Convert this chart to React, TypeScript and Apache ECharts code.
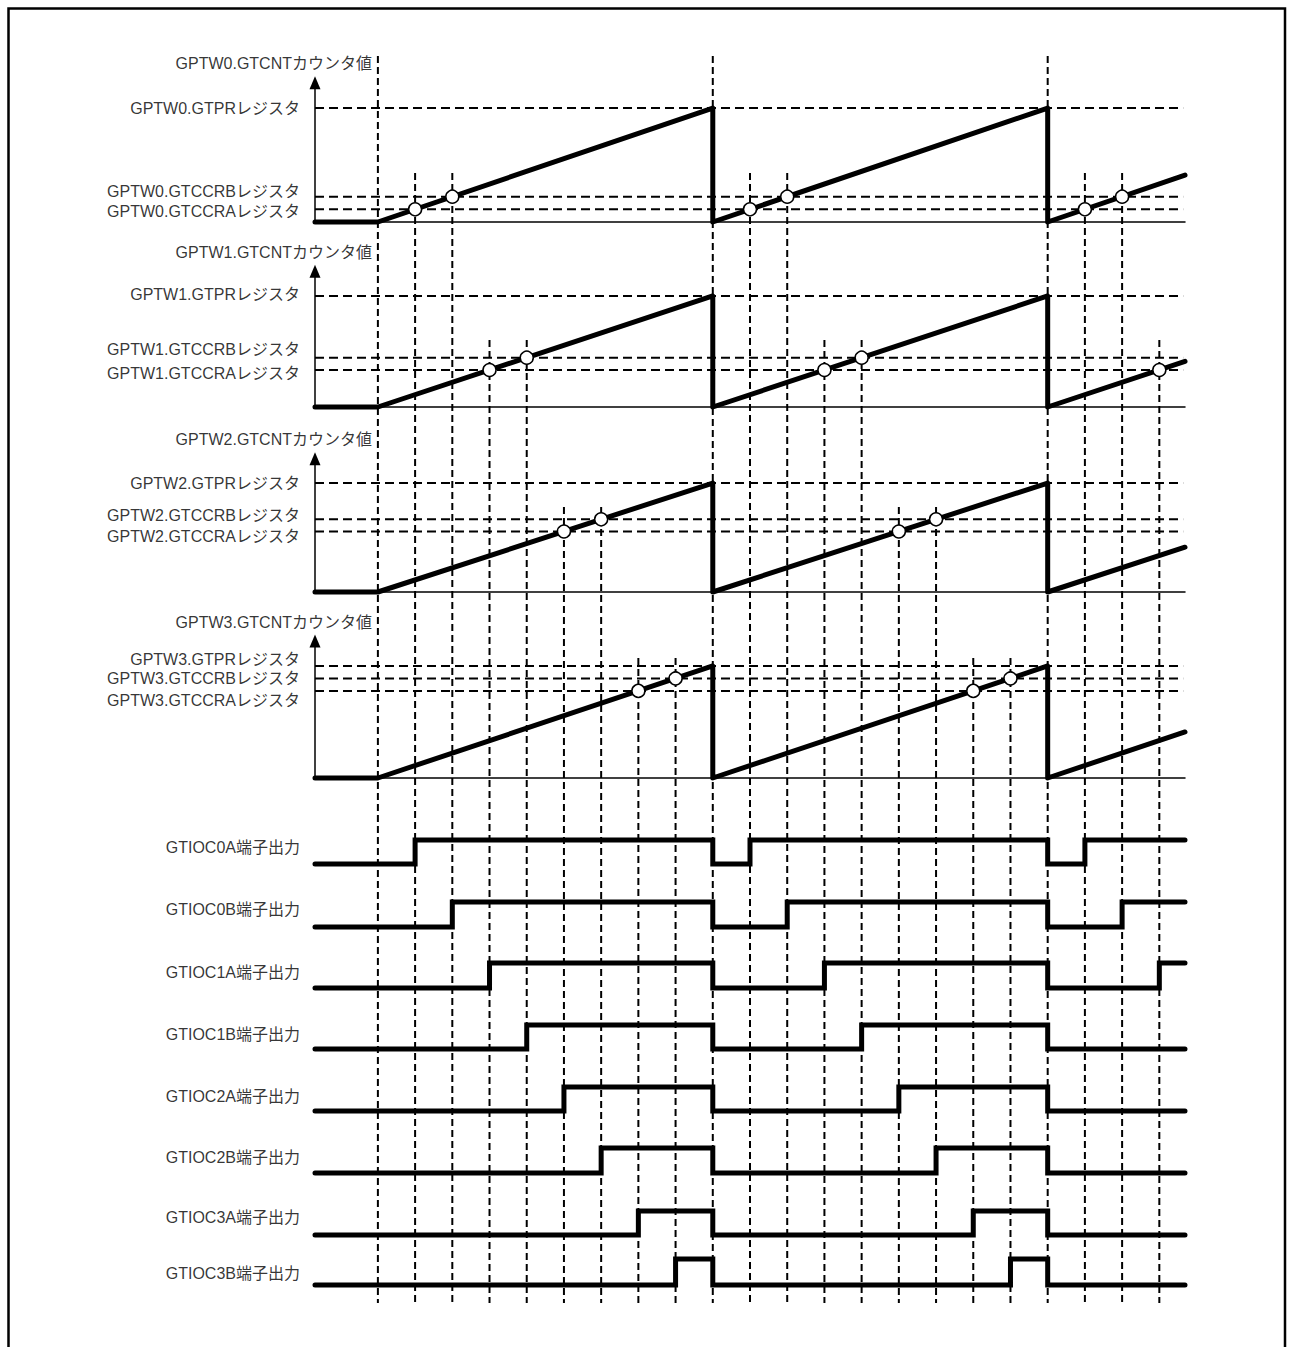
import React, { useEffect, useRef } from "react";
import * as echarts from "echarts";

// ---- time axis (counter clock periods) ----
const T_MIN = -1.69;
const T_MAX = 21.69;
const COUNTER_AXIS_MAX = 11;

// ---- counter data ----
const timerNames = ["GPTW0", "GPTW1", "GPTW2", "GPTW3"];
const gtprValue = 9;
const gtccraValues = [1, 3, 5, 7];
const gtccrbValues = [2, 4, 6, 8];
const counterTimes = [T_MIN, 0, 9, 9, 18, 18, T_MAX];
const counterValues = [0, 0, 9, 0, 9, 0, 3.7];
const matchATimes = [[1, 10, 19], [3, 12, 21], [5, 14], [7, 16]];
const matchBTimes = [[2, 11, 20], [4, 13], [6, 15], [8, 17]];

// ---- output pin data: [time, level] change points (step "end") ----
const outputNames = [
  "GTIOC0A端子出力",
  "GTIOC0B端子出力",
  "GTIOC1A端子出力",
  "GTIOC1B端子出力",
  "GTIOC2A端子出力",
  "GTIOC2B端子出力",
  "GTIOC3A端子出力",
  "GTIOC3B端子出力",
];
const out0A = [[T_MIN, 0], [1, 1], [9, 0], [10, 1], [18, 0], [19, 1], [T_MAX, 1]];
const out0B = [[T_MIN, 0], [2, 1], [9, 0], [11, 1], [18, 0], [20, 1], [T_MAX, 1]];
const out1A = [[T_MIN, 0], [3, 1], [9, 0], [12, 1], [18, 0], [21, 1], [T_MAX, 1]];
const out1B = [[T_MIN, 0], [4, 1], [9, 0], [13, 1], [18, 0], [T_MAX, 0]];
const out2A = [[T_MIN, 0], [5, 1], [9, 0], [14, 1], [18, 0], [T_MAX, 0]];
const out2B = [[T_MIN, 0], [6, 1], [9, 0], [15, 1], [18, 0], [T_MAX, 0]];
const out3A = [[T_MIN, 0], [7, 1], [9, 0], [16, 1], [18, 0], [T_MAX, 0]];
const out3B = [[T_MIN, 0], [8, 1], [9, 0], [17, 1], [18, 0], [T_MAX, 0]];
const outputLevels = [out0A, out0B, out1A, out1B, out2A, out2B, out3A, out3B];

// ---- vertical guide times, grouped by where they start ----
const guideTimesOverflow = [0, 9, 18];
const guideTimesW0 = [1, 2, 10, 11, 19, 20];
const guideTimesW1 = [3, 4, 12, 13, 21];
const guideTimesW2 = [5, 6, 14, 15];
const guideTimesW3 = [7, 8, 16, 17];
const guideGroups = [guideTimesOverflow, guideTimesW0, guideTimesW1, guideTimesW2, guideTimesW3];

// ---- layout (pixels) ----
const PLOT_LEFT = 315;
const PLOT_RIGHT_EDGE = 1185;
const counterLayout = [
  { top: 82.7, base: 222 },
  { top: 271.3, base: 407 },
  { top: 458.8, base: 592 },
  { top: 641.1, base: 778 },
];
// label vertical offsets: [GTPR, GTCCRB, GTCCRA]
const registerLabelDy = [
  [0, -5, 2],
  [-1, -8, 4],
  [0, -4, 5],
  [-6, 0, 10],
];
const outputLayout = [
  { high: 840, low: 864, dy: -16 },
  { high: 902, low: 927, dy: -17 },
  { high: 963, low: 988, dy: -15 },
  { high: 1025, low: 1049, dy: -14 },
  { high: 1087, low: 1111, dy: -14 },
  { high: 1148, low: 1173, dy: -15 },
  { high: 1211, low: 1235, dy: -17 },
  { high: 1259, low: 1285, dy: -11 },
];
const guideTops = [56, 173, 340, 507, 658];
const GUIDE_BOTTOM = 1303;

const FONT = 'Arial, "Liberation Sans", "Noto Sans CJK JP", sans-serif';
const TEXT_COLOR = "#000";

function buildOption() {
  const grid: any[] = [];
  const xAxis: any[] = [];
  const yAxis: any[] = [];
  const series: any[] = [];
  const width = PLOT_RIGHT_EDGE - PLOT_LEFT;

  const hiddenX = (gi: number) => ({
    type: "value", gridIndex: gi, min: T_MIN, max: T_MAX, show: false,
  });

  // guide grids (vertical dashed lines)
  guideGroups.forEach((times, g) => {
    const gi = grid.length;
    grid.push({ left: PLOT_LEFT, width, top: guideTops[g], height: GUIDE_BOTTOM - guideTops[g] });
    xAxis.push(hiddenX(gi));
    yAxis.push({ type: "value", gridIndex: gi, min: 0, max: 1, show: false });
    times.forEach((t) => {
      series.push({
        type: "line", xAxisIndex: gi, yAxisIndex: gi, silent: true, clip: false,
        showSymbol: false, z: 1,
        lineStyle: { color: "#000", width: 2, type: [7, 4] },
        data: [[t, 1], [t, 0]],
      });
    });
  });

  // counter panels
  timerNames.forEach((name, i) => {
    const gi = grid.length;
    const L = counterLayout[i];
    grid.push({ left: PLOT_LEFT, width, top: L.top, height: L.base - L.top });
    xAxis.push({
      type: "value", gridIndex: gi, min: T_MIN, max: T_MAX,
      axisLine: { show: true, onZero: false, lineStyle: { color: "#000", width: 1.5 } },
      axisTick: { show: false }, axisLabel: { show: false }, splitLine: { show: false },
    });
    yAxis.push({
      type: "value", gridIndex: gi, min: 0, max: COUNTER_AXIS_MAX,
      axisLine: {
        show: true, onZero: false, symbol: ["none", "triangle"], symbolSize: [11, 13],
        lineStyle: { color: "#000", width: 1.5 },
      },
      axisTick: { show: false }, axisLabel: { show: false }, splitLine: { show: false },
    });
    const regValues = [gtprValue, gtccrbValues[i], gtccraValues[i]];
    const regNames = [`${name}.GTPRレジスタ`, `${name}.GTCCRBレジスタ`, `${name}.GTCCRAレジスタ`];
    regValues.forEach((v) => {
      series.push({
        type: "line", xAxisIndex: gi, yAxisIndex: gi, silent: true, clip: false,
        showSymbol: false, z: 2,
        lineStyle: { color: "#000", width: 2, type: [9, 5] },
        data: [[T_MIN, v], [T_MAX - 0.05, v]],
      });
    });
    series.push({
      type: "line", xAxisIndex: gi, yAxisIndex: gi, silent: true, clip: false,
      showSymbol: false, z: 5,
      lineStyle: { color: "#000", width: 5, cap: "round", join: "round" },
      data: counterTimes.map((t, k) => [t, counterValues[k]]),
    });
    const circles: number[][] = [];
    matchATimes[i].forEach((t) => circles.push([t, gtccraValues[i]]));
    matchBTimes[i].forEach((t) => circles.push([t, gtccrbValues[i]]));
    series.push({
      type: "scatter", xAxisIndex: gi, yAxisIndex: gi, silent: true, clip: false, z: 6,
      symbol: "circle", symbolSize: 13,
      itemStyle: { color: "#fff", borderColor: "#000", borderWidth: 1.5, opacity: 1 },
      data: circles,
    });
    const labelBase = { show: true, color: TEXT_COLOR, fontSize: 16, fontFamily: FONT, verticalAlign: "middle" };
    const labelItems: any[] = [
      {
        value: [T_MIN, COUNTER_AXIS_MAX],
        label: { ...labelBase, formatter: `${name}.GTCNTカウンタ値`, position: [57, -19], align: "right" },
      },
    ];
    regValues.forEach((v, k) => {
      labelItems.push({
        value: [T_MIN, v],
        label: { ...labelBase, formatter: regNames[k], position: [-15, registerLabelDy[i][k]], align: "right" },
      });
    });
    series.push({
      type: "scatter", xAxisIndex: gi, yAxisIndex: gi, silent: true, clip: false, z: 7,
      symbol: "circle", symbolSize: 0.01, itemStyle: { color: "rgba(0,0,0,0)" },
      data: labelItems,
    });
  });

  // output pin rows
  outputNames.forEach((name, r) => {
    const gi = grid.length;
    const L = outputLayout[r];
    grid.push({ left: PLOT_LEFT, width, top: L.high, height: L.low - L.high });
    xAxis.push(hiddenX(gi));
    yAxis.push({ type: "value", gridIndex: gi, min: 0, max: 1, show: false });
    series.push({
      type: "line", xAxisIndex: gi, yAxisIndex: gi, silent: true, clip: false,
      showSymbol: false, step: "end", z: 5,
      lineStyle: { color: "#000", width: 5, cap: "round", join: "miter" },
      data: outputLevels[r],
    });
    series.push({
      type: "scatter", xAxisIndex: gi, yAxisIndex: gi, silent: true, clip: false, z: 7,
      symbol: "circle", symbolSize: 0.01, itemStyle: { color: "rgba(0,0,0,0)" },
      data: [
        {
          value: [T_MIN, 0],
          label: {
            show: true, formatter: name, position: [-15, L.dy], align: "right", verticalAlign: "middle",
            color: TEXT_COLOR, fontSize: 16, fontFamily: FONT,
          },
        },
      ],
    });
  });

  return {
    animation: false,
    backgroundColor: "#fff",
    grid, xAxis, yAxis, series,
    graphic: [
      {
        type: "rect", silent: true, z: 100,
        shape: { x: 8.5, y: 8.5, width: 1276.5, height: 1400 },
        style: { fill: "none", stroke: "#000", lineWidth: 2.5 },
      },
    ],
  };
}

export default function App() {
  const ref = useRef<HTMLDivElement>(null);
  useEffect(() => {
    if (!ref.current) return;
    const chart = echarts.init(ref.current, undefined, { renderer: "svg" });
    chart.setOption(buildOption() as any);
    return () => chart.dispose();
  }, []);
  return (
    <div
      ref={ref}
      style={{ position: "absolute", left: 0, top: 0, width: 1290, height: 1347, background: "#fff" }}
    />
  );
}
